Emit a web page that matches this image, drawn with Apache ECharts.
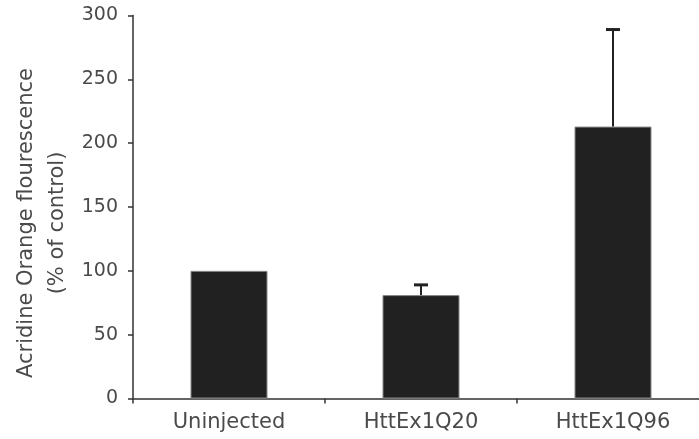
<!DOCTYPE html>
<html>
<head>
<meta charset="utf-8">
<script src="https://cdn.jsdelivr.net/npm/echarts@6/dist/echarts.min.js"></script>
<style>html,body{margin:0;padding:0;background:#fff;}#c{width:699px;height:439px;}</style>
</head>
<body>
<div id="c"></div>
<script>
var categories = ['Uninjected', 'HttEx1Q20', 'HttEx1Q96'];
var means = [100, 81, 213];
var errUp = [0, 8, 76];
var yTicks = [0, 50, 100, 150, 200, 250, 300];
var yTitle = ['Acridine Orange flourescence', '(% of control)'];

var chart = echarts.init(document.getElementById('c'), null, {renderer: 'canvas'});
var errData = categories.map(function (c, i) { return [i, means[i], means[i] + errUp[i]]; });

chart.setOption({
  animation: false,
  backgroundColor: '#fff',
  grid: {left: 133, width: 576, top: 15.5, height: 383, containLabel: false, outerBoundsMode: 'none'},
  xAxis: {
    type: 'category',
    data: categories,
    boundaryGap: true,
    axisLine: {lineStyle: {color: '#333', width: 1.5}},
    axisTick: {show: true, length: 5, alignWithLabel: false, lineStyle: {color: '#333', width: 1.5}},
    axisLabel: {color: '#4a4a4a', fontFamily: 'DejaVu Sans', fontSize: 21, margin: 14, interval: 0}
  },
  yAxis: {
    type: 'value',
    min: yTicks[0],
    max: yTicks[yTicks.length - 1],
    interval: 50,
    splitLine: {show: false},
    axisLine: {show: true, lineStyle: {color: '#333', width: 1.5}},
    axisTick: {show: true, length: 5, lineStyle: {color: '#333', width: 1.5}},
    axisLabel: {color: '#4a4a4a', fontFamily: 'DejaVu Sans', fontSize: 19, margin: 15, padding: [7, 0, 0, 0]}
  },
  graphic: [{
    type: 'text',
    x: 42, y: 223,
    rotation: Math.PI / 2,
    style: {
      text: yTitle.join('\n'),
      fill: '#4a4a4a',
      font: '21px "DejaVu Sans"',
      lineHeight: 31,
      align: 'center',
      verticalAlign: 'middle'
    }
  }],
  series: [{
    type: 'bar',
    data: means,
    barWidth: 77,
    itemStyle: {color: '#212121', borderColor: '#888', borderWidth: 1}
  }, {
    type: 'custom',
    data: errData,
    z: 5,
    renderItem: function (params, api) {
      if (api.value(2) <= api.value(1)) return null;
      var base = api.coord([api.value(0), api.value(1)]);
      var top = api.coord([api.value(0), api.value(2)]);
      var half = 7;
      return {
        type: 'group',
        children: [{
          type: 'line',
          shape: {x1: base[0], y1: base[1], x2: top[0], y2: top[1]},
          style: {stroke: '#222', lineWidth: 2}
        }, {
          type: 'line',
          shape: {x1: top[0] - half, y1: top[1], x2: top[0] + half, y2: top[1]},
          style: {stroke: '#222', lineWidth: 3}
        }]
      };
    }
  }]
});
</script>
</body>
</html>
